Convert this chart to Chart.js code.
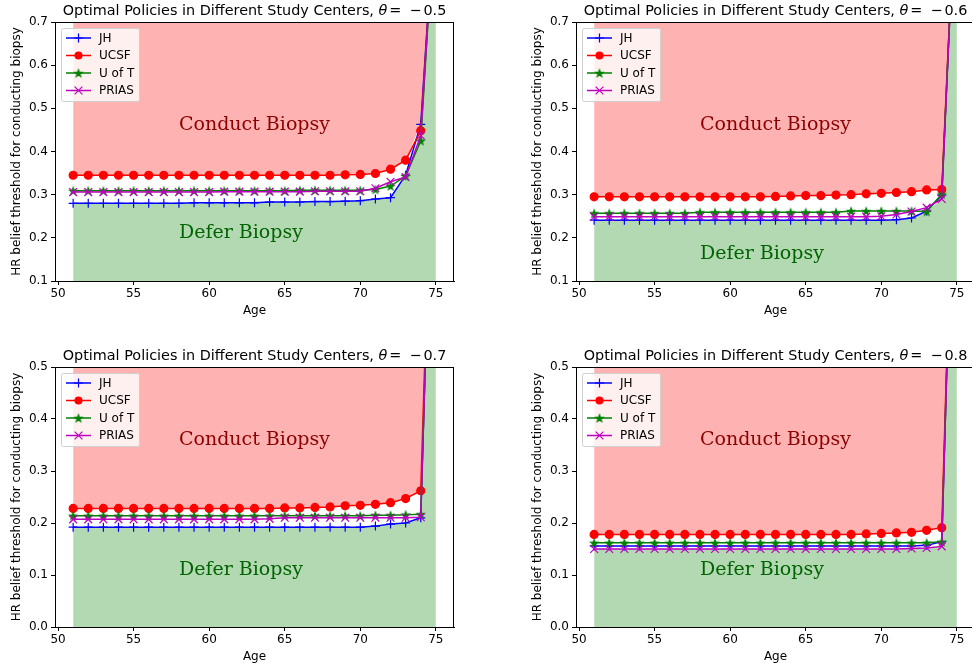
<!DOCTYPE html>
<html>
<head>
<meta charset="utf-8">
<script src="https://cdn.jsdelivr.net/npm/chart.js@4/dist/chart.umd.min.js"></script>
<style>
  html, body { margin: 0; padding: 0; background: #fff; overflow: hidden; }
  #wrap { position: relative; width: 972px; height: 665px; overflow: hidden; }
  canvas { position: absolute; }
</style>
</head>
<body>
<div id="wrap">
  <canvas id="c1" width="486" height="332" style="left:0;top:0"></canvas>
  <canvas id="c2" width="521" height="332" style="left:486px;top:0"></canvas>
  <canvas id="c3" width="486" height="333" style="left:0;top:332px"></canvas>
  <canvas id="c4" width="521" height="333" style="left:486px;top:332px"></canvas>
</div>
<script>
// ages on the x axis
const ages = [51, 52, 53, 54, 55, 56, 57, 58, 59, 60, 61, 62, 63, 64, 65, 66, 67, 68, 69, 70, 71, 72, 73, 74, 75];
const xTicks = [50, 55, 60, 65, 70, 75];
const yTicksTop = [0.1, 0.2, 0.3, 0.4, 0.5, 0.6, 0.7];
const yTicksBottom = [0.0, 0.1, 0.2, 0.3, 0.4, 0.5];
const centers = ["JH", "UCSF", "U of T", "PRIAS"];
const thetas = ["0.5", "0.6", "0.7", "0.8"];

// theta = -0.5
const jh05 = [0.280, 0.280, 0.280, 0.280, 0.280, 0.280, 0.280, 0.280, 0.281, 0.281, 0.281, 0.281, 0.281, 0.283, 0.283, 0.283, 0.284, 0.284, 0.285, 0.286, 0.290, 0.293, 0.345, 0.463, 1.00];
const ucsf05 = [0.345, 0.345, 0.345, 0.345, 0.345, 0.345, 0.345, 0.345, 0.345, 0.345, 0.345, 0.345, 0.345, 0.345, 0.345, 0.345, 0.345, 0.345, 0.346, 0.347, 0.349, 0.359, 0.380, 0.448, 1.00];
const uoft05 = [0.309, 0.309, 0.309, 0.309, 0.309, 0.309, 0.309, 0.309, 0.309, 0.309, 0.309, 0.309, 0.309, 0.309, 0.309, 0.310, 0.310, 0.310, 0.310, 0.310, 0.312, 0.320, 0.343, 0.425, 1.00];
const prias05 = [0.306, 0.306, 0.306, 0.306, 0.306, 0.306, 0.306, 0.306, 0.306, 0.306, 0.307, 0.307, 0.307, 0.307, 0.307, 0.307, 0.308, 0.308, 0.308, 0.308, 0.315, 0.330, 0.341, 0.437, 1.00];

// theta = -0.6
const jh06 = [0.241, 0.241, 0.241, 0.241, 0.241, 0.241, 0.241, 0.241, 0.241, 0.241, 0.241, 0.241, 0.241, 0.241, 0.241, 0.241, 0.241, 0.241, 0.241, 0.241, 0.242, 0.246, 0.262, 0.299, 1.08];
const ucsf06 = [0.295, 0.295, 0.295, 0.295, 0.295, 0.295, 0.295, 0.295, 0.295, 0.295, 0.295, 0.295, 0.296, 0.297, 0.298, 0.298, 0.299, 0.300, 0.302, 0.303, 0.305, 0.307, 0.311, 0.312, 1.08];
const uoft06 = [0.257, 0.257, 0.257, 0.257, 0.257, 0.257, 0.257, 0.259, 0.259, 0.259, 0.259, 0.259, 0.259, 0.259, 0.259, 0.259, 0.259, 0.262, 0.262, 0.262, 0.262, 0.262, 0.261, 0.301, 1.08];
const prias06 = [0.249, 0.249, 0.249, 0.249, 0.249, 0.249, 0.249, 0.249, 0.249, 0.249, 0.249, 0.249, 0.249, 0.249, 0.249, 0.249, 0.249, 0.249, 0.249, 0.250, 0.254, 0.261, 0.270, 0.290, 1.08];

// theta = -0.7
const jh07 = [0.192, 0.192, 0.192, 0.192, 0.192, 0.192, 0.192, 0.192, 0.192, 0.192, 0.192, 0.192, 0.192, 0.192, 0.192, 0.192, 0.192, 0.192, 0.192, 0.192, 0.194, 0.198, 0.200, 0.210, 1.20];
const ucsf07 = [0.228, 0.228, 0.228, 0.228, 0.228, 0.228, 0.228, 0.228, 0.228, 0.228, 0.228, 0.228, 0.228, 0.228, 0.229, 0.229, 0.230, 0.231, 0.233, 0.234, 0.236, 0.239, 0.247, 0.262, 1.20];
const uoft07 = [0.214, 0.214, 0.214, 0.214, 0.214, 0.214, 0.214, 0.214, 0.214, 0.214, 0.214, 0.214, 0.214, 0.214, 0.214, 0.214, 0.214, 0.214, 0.214, 0.214, 0.215, 0.215, 0.216, 0.217, 1.20];
const prias07 = [0.207, 0.207, 0.207, 0.207, 0.207, 0.207, 0.207, 0.207, 0.207, 0.207, 0.207, 0.207, 0.207, 0.208, 0.210, 0.210, 0.210, 0.210, 0.210, 0.210, 0.210, 0.210, 0.210, 0.211, 1.20];

// theta = -0.8
const jh08 = [0.156, 0.156, 0.156, 0.156, 0.156, 0.156, 0.156, 0.156, 0.156, 0.156, 0.156, 0.156, 0.156, 0.156, 0.156, 0.156, 0.156, 0.156, 0.156, 0.156, 0.156, 0.156, 0.157, 0.164, 1.17];
const ucsf08 = [0.178, 0.178, 0.178, 0.178, 0.178, 0.178, 0.178, 0.178, 0.178, 0.178, 0.178, 0.178, 0.178, 0.178, 0.178, 0.178, 0.178, 0.178, 0.179, 0.180, 0.181, 0.182, 0.186, 0.191, 1.17];
const uoft08 = [0.162, 0.162, 0.162, 0.162, 0.162, 0.162, 0.162, 0.162, 0.162, 0.162, 0.162, 0.162, 0.162, 0.162, 0.162, 0.162, 0.162, 0.162, 0.162, 0.162, 0.162, 0.162, 0.162, 0.164, 1.17];
const prias08 = [0.150, 0.150, 0.150, 0.150, 0.150, 0.150, 0.150, 0.150, 0.150, 0.150, 0.150, 0.150, 0.150, 0.150, 0.150, 0.150, 0.150, 0.150, 0.150, 0.150, 0.150, 0.151, 0.152, 0.155, 1.17];

Chart.defaults.font.family = '"DejaVu Sans", sans-serif';
Chart.defaults.font.size = 12;
Chart.defaults.color = '#000';

const colors = ['#0000ff', '#ff0000', '#008000', '#bf00bf'];

// filled star marker, like matplotlib '*'
function starImage(color) {
  const c = document.createElement('canvas');
  c.width = 12; c.height = 12;
  const g = c.getContext('2d');
  g.fillStyle = color;
  g.beginPath();
  for (let i = 0; i < 10; i++) {
    const r = i % 2 === 0 ? 5.5 : 2.3;
    const a = -Math.PI / 2 + i * Math.PI / 5;
    const px = 6 + r * Math.cos(a), py = 6.5 + r * Math.sin(a);
    if (i === 0) g.moveTo(px, py); else g.lineTo(px, py);
  }
  g.closePath();
  g.fill();
  return c;
}
const star = starImage(colors[2]);
const markers = [
  { style: 'cross', radius: 4.5 },
  { style: 'circle', radius: 4 },
  { style: star, radius: 5 },
  { style: 'crossRot', radius: 5.5 }
];

function drawMarker(ctx, i, x, y) {
  const m = markers[i];
  ctx.save();
  ctx.strokeStyle = colors[i];
  ctx.fillStyle = colors[i];
  ctx.lineWidth = 1.2;
  if (m.style === 'circle') {
    ctx.beginPath(); ctx.arc(x, y, m.radius, 0, Math.PI * 2); ctx.fill();
  } else if (m.style === 'cross') {
    ctx.beginPath();
    ctx.moveTo(x - m.radius, y); ctx.lineTo(x + m.radius, y);
    ctx.moveTo(x, y - m.radius); ctx.lineTo(x, y + m.radius);
    ctx.stroke();
  } else if (m.style === 'crossRot') {
    const d = m.radius * Math.SQRT1_2;
    ctx.beginPath();
    ctx.moveTo(x - d, y - d); ctx.lineTo(x + d, y + d);
    ctx.moveTo(x - d, y + d); ctx.lineTo(x + d, y - d);
    ctx.stroke();
  } else {
    ctx.drawImage(m.style, x - m.style.width / 2, y - m.style.height / 2);
  }
  ctx.restore();
}

// title, annotations, top/right spines and the legend box
const decor = {
  id: 'decor',
  afterDatasetsDraw(chart, args, opts) {
    const { ctx, scales } = chart;
    ctx.save();
    ctx.font = '19px "DejaVu Serif", serif';
    ctx.textBaseline = 'alphabetic';
    ctx.textAlign = 'left';
    ctx.fillStyle = '#8b0000';
    ctx.fillText('Conduct Biopsy', scales.x.getPixelForValue(opts.textX), scales.y.getPixelForValue(opts.conductY));
    ctx.fillStyle = '#006400';
    ctx.fillText('Defer Biopsy', scales.x.getPixelForValue(opts.textX), scales.y.getPixelForValue(opts.deferY));
    ctx.restore();
  },
  afterDraw(chart, args, opts) {
    const { ctx, chartArea: a } = chart;
    ctx.save();
    // spines
    ctx.strokeStyle = '#000';
    ctx.lineWidth = 1;
    ctx.beginPath();
    ctx.moveTo(a.left, Math.round(a.top) + 0.5); ctx.lineTo(a.right, Math.round(a.top) + 0.5);
    ctx.moveTo(Math.round(a.right) - 0.5, a.top); ctx.lineTo(Math.round(a.right) - 0.5, a.bottom);
    ctx.stroke();

    // title with italic theta
    const tf = '14.4px "DejaVu Sans"';
    const parts = [
      { t: 'Optimal Policies in Different Study Centers, ', f: tf, gap: 0 },
      { t: '\u03b8', f: 'italic ' + tf, gap: 0 },
      { t: '=', f: tf, gap: 2 },
      { t: '\u2212', f: tf, gap: 8 },
      { t: opts.theta, f: tf, gap: 2 }
    ];
    let total = 0;
    parts.forEach(p => { ctx.font = p.f; p.w = ctx.measureText(p.t).width; total += p.w + p.gap; });
    let x = (a.left + a.right) / 2 - total / 2;
    const ty = a.top - 7;
    ctx.fillStyle = '#000';
    ctx.textAlign = 'left';
    ctx.textBaseline = 'alphabetic';
    parts.forEach(p => { x += p.gap; ctx.font = p.f; ctx.fillText(p.t, x, ty); x += p.w; });

    // legend
    const lx = a.left + 6, ly = a.top + 6;
    ctx.fillStyle = 'rgba(255,255,255,0.8)';
    ctx.strokeStyle = '#d0d0d0';
    ctx.beginPath();
    ctx.roundRect(lx + 0.5, ly + 0.5, 78, 73, 2);
    ctx.fill();
    ctx.stroke();
    ctx.font = '12px "DejaVu Sans"';
    ctx.textBaseline = 'middle';
    centers.forEach((name, i) => {
      const ry = ly + 10 + i * 17.5;
      ctx.strokeStyle = colors[i];
      ctx.lineWidth = 1.5;
      ctx.beginPath();
      ctx.moveTo(lx + 5, ry); ctx.lineTo(lx + 30, ry);
      ctx.stroke();
      drawMarker(ctx, i, lx + 17.5, ry);
      ctx.fillStyle = '#000';
      ctx.fillText(name, lx + 38, ry + 0.5);
    });
    ctx.restore();
  }
};

function buildChart(id, series, theta, yMin, yMax, yTicks, conductY, deferY, padLeft, padBottom, padTop) {
  const pts = vals => ages.map((a, i) => ({ x: a, y: vals[i] }));
  const upper = ages.map((a, i) => Math.max(...series.map(s => s[i])));
  const lower = ages.map((a, i) => Math.min(...series.map(s => s[i])));

  const datasets = [
    { data: pts(upper), fill: 'end', backgroundColor: 'rgba(255,0,0,0.3)', borderColor: 'rgba(0,0,0,0)', borderWidth: 0, pointRadius: 0, order: 10 },
    { data: pts(lower), fill: 'start', backgroundColor: 'rgba(0,128,0,0.3)', borderColor: 'rgba(0,0,0,0)', borderWidth: 0, pointRadius: 0, order: 11 }
  ];
  series.forEach((s, i) => {
    datasets.push({
      label: centers[i],
      data: pts(s),
      borderColor: colors[i],
      backgroundColor: colors[i],
      borderWidth: 1.5,
      pointStyle: markers[i].style,
      pointRadius: markers[i].radius,
      pointBorderWidth: 1.2,
      pointBorderColor: colors[i],
      pointBackgroundColor: colors[i],
      fill: false,
      tension: 0,
      clip: 0,
      order: 4 - i
    });
  });

  return new Chart(document.getElementById(id), {
    type: 'line',
    data: { datasets },
    options: {
      responsive: false,
      animation: false,
      devicePixelRatio: 1,
      layout: { padding: { left: padLeft, right: 32, top: padTop, bottom: padBottom } },
      plugins: {
        legend: { display: false },
        tooltip: { enabled: false },
        filler: { drawTime: 'beforeDatasetsDraw' },
        decor: { theta, conductY, deferY, textX: 58 }
      },
      scales: {
        x: {
          type: 'linear',
          min: 49.8,
          max: 76.2,
          afterBuildTicks: sc => { sc.ticks = xTicks.map(v => ({ value: v })); },
          afterFit: sc => { sc.height = 37; },
          ticks: { callback: v => String(v), padding: 2, maxRotation: 0, autoSkip: false, color: '#000' },
          grid: { drawOnChartArea: false, drawTicks: true, tickLength: 4, color: '#000' },
          border: { display: true, color: '#000', width: 1 },
          title: { display: true, text: 'Age', padding: 0, font: { size: 12 }, color: '#000' }
        },
        y: {
          type: 'linear',
          min: yMin,
          max: yMax,
          afterBuildTicks: sc => { sc.ticks = yTicks.map(v => ({ value: v })); },
          afterFit: sc => { sc.width = 45; },
          ticks: { callback: v => v.toFixed(1), padding: 3, autoSkip: false, color: '#000' },
          grid: { drawOnChartArea: false, drawTicks: true, tickLength: 4, color: '#000' },
          border: { display: true, color: '#000', width: 1 },
          title: { display: true, text: 'HR belief threshold for conducting biopsy', padding: 0, font: { size: 12 }, color: '#000' }
        }
      }
    },
    plugins: [decor]
  });
}

buildChart('c1', [jh05, ucsf05, uoft05, prias05], thetas[0], 0.1, 0.7, yTicksTop, 0.45, 0.2, 10, 14, 22);
buildChart('c2', [jh06, ucsf06, uoft06, prias06], thetas[1], 0.1, 0.7, yTicksTop, 0.45, 0.15, 45, 14, 22);
buildChart('c3', [jh07, ucsf07, uoft07, prias07], thetas[2], 0.0, 0.5, yTicksBottom, 0.35, 0.1, 10, 1, 35);
buildChart('c4', [jh08, ucsf08, uoft08, prias08], thetas[3], 0.0, 0.5, yTicksBottom, 0.35, 0.1, 45, 1, 35);
</script>
</body>
</html>
